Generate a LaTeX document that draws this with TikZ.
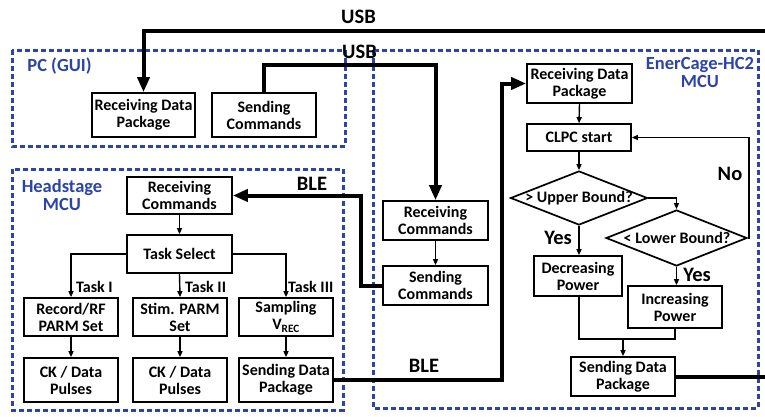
\documentclass[tikz,border=0pt]{standalone}
\usepackage{fontspec}
\setmainfont{Carlito}
\usetikzlibrary{arrows.meta,shapes.geometric}
\definecolor{dblue}{RGB}{44,68,168}
\begin{document}
\begin{tikzpicture}[x=1pt,y=-1pt,
  bx/.style={draw,line width=1.7pt,inner sep=0pt,align=center,font=\fontsize{16}{17}\selectfont\bfseries},
  grp/.style={draw=dblue,line width=3pt,dash pattern=on 5pt off 3pt},
  grplabel/.style={text=dblue,font=\fontsize{18.5}{17.5}\selectfont\bfseries,align=center,inner sep=0pt},
  big/.style={font=\fontsize{20.5}{20}\selectfont\bfseries,inner sep=0pt},
  small/.style={font=\fontsize{16}{17}\selectfont\bfseries,inner sep=0pt},
  thk/.style={line width=4pt},
  thkarr/.style={line width=4pt,-{Triangle[length=15pt,width=12pt]}},
  thinarr/.style={line width=1.4pt,-{Triangle[length=6pt,width=5pt]}},
  thinline/.style={line width=1.4pt},
  dia/.style={draw,diamond,line width=1.7pt,inner sep=0pt}
]
\useasboundingbox (0,0) rectangle (765,416);
% groups
\draw[grp] (12,50) rectangle (345,146);
\draw[grp] (12,169) rectangle (343,410);
\draw[grp] (373,50) rectangle (758,408);
\node[grplabel] (lpc) at (59.5,66) {PC (GUI)};
\node[grplabel] (lhs) at (62,195) {Headstage\\MCU};
\node[grplabel] (lec) at (700,72.5) {EnerCage-HC2\\MCU};

% PC
\node[bx,minimum width=103pt,minimum height=44pt] (pcRecv) at (143.5,115) {Receiving Data\\Package};
\node[bx,minimum width=104pt,minimum height=44pt] (pcSend) at (264,115) {Sending\\Commands};

% EnerCage left column
\node[bx,minimum width=105pt,minimum height=39pt] (ecRecvCmd) at (435.5,220.5) {Receiving\\Commands};
\node[bx,minimum width=105pt,minimum height=39pt] (ecSendCmd) at (435.5,285.5) {Sending\\Commands};

% EnerCage right column
\node[bx,minimum width=105pt,minimum height=39pt] (ecRecvData) at (579.5,83.5) {Receiving Data\\Package};
\node[bx,minimum width=104pt,minimum height=27pt] (clpc) at (579,137.5) {CLPC start};
\node[dia,minimum width=137pt,minimum height=54pt] (upper) at (579,198) {};
\node[small] (upperT) at (579,198) {> Upper Bound?};
\node[dia,minimum width=141pt,minimum height=56pt] (lower) at (676.5,238) {};
\node[small] (lowerT) at (677,238) {< Lower Bound?};
\node[bx,minimum width=88pt,minimum height=40pt] (decPow) at (578,276) {Decreasing\\Power};
\node[bx,minimum width=94pt,minimum height=42pt] (incPow) at (675,307) {Increasing\\Power};
\node[bx,minimum width=104pt,minimum height=39pt] (ecSendData) at (623,376.5) {Sending Data\\Package};

% Headstage
\node[bx,minimum width=105pt,minimum height=37pt] (hsRecv) at (179.5,195.5) {Receiving\\Commands};
\node[bx,minimum width=105pt,minimum height=38pt] (taskSel) at (179.5,254) {Task Select};
\node[bx,minimum width=94pt,minimum height=38pt] (rec) at (71,317) {Record/RF\\PARM Set};
\node[bx,minimum width=94pt,minimum height=38pt] (stim) at (180,317) {Stim. PARM\\Set};
\node[bx,minimum width=94pt,minimum height=38pt] (samp) at (286,317) {Sampling\\V\textsubscript{REC}};
\node[bx,minimum width=94pt,minimum height=44pt] (ck1) at (71,380) {CK / Data\\Pulses};
\node[bx,minimum width=94pt,minimum height=44pt] (ck2) at (180,380) {CK / Data\\Pulses};
\node[bx,minimum width=94pt,minimum height=44pt] (hsSend) at (286,380) {Sending Data\\Package};

% labels
\node[big] (usb1) at (358.5,16.5) {USB};
\node[big] (usb2) at (359.5,51.5) {USB};
\node[big] (ble1) at (312,184) {BLE};
\node[big] (ble2) at (424,366) {BLE};
\node[big] (no) at (730,174) {No};
\node[big] (yes1) at (558,238) {Yes};
\node[big] (yes2) at (697,275) {Yes};
\node[small,anchor=west] (t1) at (76,286.5) {Task I};
\node[small,anchor=west] (t2) at (185,286.5) {Task II};
\node[small,anchor=west] (t3) at (288,286.5) {Task III};

% free ends
\coordinate (usbIn) at (765,31);
\coordinate (usbOut) at (765,377);
\coordinate (usbC) at (264,65);
\coordinate (bleC1) at (361,285.5);
\coordinate (bleC2) at (502,380);
\coordinate (fbC) at (749,238);
\coordinate (mergeY) at (579,339);

% thick connectors
\draw[thkarr] (usbIn) -| (pcRecv.north);
\draw[thkarr] (pcSend.north) -- (usbC) -| (ecRecvCmd.north);
\draw[thk] (ecSendData.east |- usbOut) -- (usbOut);
\draw[thkarr] (ecSendCmd.west) -- (bleC1) |- (hsRecv.east);
\draw[thkarr] (hsSend.east) -- (bleC2) |- (ecRecvData.west);

% EnerCage thin
\draw[thinarr] (ecRecvCmd.south) -- (ecSendCmd.north);
\draw[thinarr] (ecRecvData.south) -- (clpc.north);
\draw[thinarr] (clpc.south) -- (upper.north);
\draw[thinarr] (upper.east) -| (lower.north);
\draw[thinarr] (lower.east) -- (fbC) |- (clpc.east);
\draw[thinarr] (upper.south) -- (decPow.north -| upper.south);
\draw[thinarr] (lower.south) -- (incPow.north -| lower.south);
\draw[thinline] (decPow.south -| mergeY) -- (mergeY) -- (mergeY -| incPow.south) -- (incPow.south);
\draw[thinarr] (mergeY -| ecSendData.north) -- (ecSendData.north);

% Headstage thin
\draw[thinarr] (hsRecv.south) -- (taskSel.north);
\draw[thinarr] (taskSel.west) -| (rec.north);
\draw[thinarr] (taskSel.south) -- (stim.north);
\draw[thinarr] (taskSel.east) -| (samp.north);
\draw[thinarr] (rec.south) -- (ck1.north);
\draw[thinarr] (stim.south) -- (ck2.north);
\draw[thinarr] (samp.south) -- (hsSend.north);
\end{tikzpicture}
\end{document}
